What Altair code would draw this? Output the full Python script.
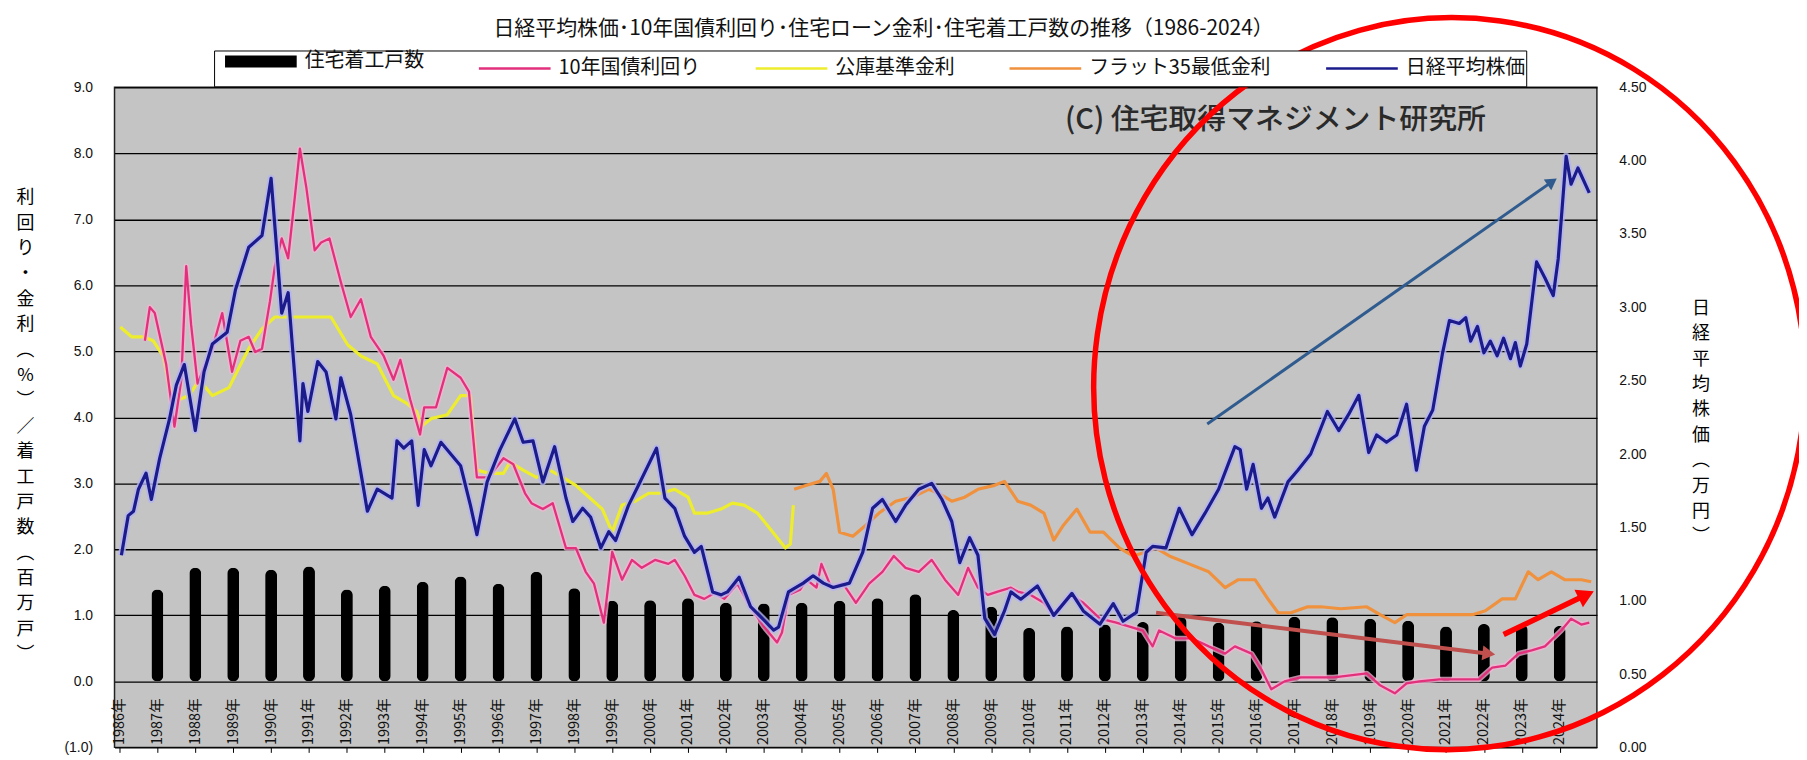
import altair as alt
import pandas as pd

FONT = "Noto Sans CJK JP"
NUM_FONT = "Liberation Sans"

TITLE = "日経平均株価･10年国債利回り･住宅ローン金利･住宅着工戸数の推移（1986-2024）"
WATERMARK = "(C) 住宅取得マネジメント研究所"
SERIES = ["住宅着工戸数", "10年国債利回り", "公庫基準金利", "フラット35最低金利", "日経平均株価"]
COLORS = ["#000000", "#e2307c", "#eded2e", "#f0913e", "#1b1b8c"]
LEFT_TITLE = ["利", "回", "り", "・", "金", "利", "︵", "%", "︶", "／", "着", "工", "戸", "数", "︵", "百", "万", "戸", "︶"]
RIGHT_TITLE = ["日", "経", "平", "均", "株", "価", "︵", "万", "円", "︶"]
YEAR_TICKS = list(range(1986, 2025))
LEFT_TICKS = list(range(-1, 10))
RIGHT_TICKS = [0.0, 0.5, 1.0, 1.5, 2.0, 2.5, 3.0, 3.5, 4.0, 4.5]

# 住宅着工戸数 (百万戸)
housing_years = list(range(1987, 2025))
housing_starts = [1.39, 1.72, 1.72, 1.69, 1.74, 1.39, 1.45, 1.51, 1.59, 1.48,
                  1.66, 1.41, 1.22, 1.23, 1.26, 1.19, 1.18, 1.19, 1.22, 1.26,
                  1.32, 1.08, 1.13, 0.81, 0.83, 0.86, 0.90, 0.98, 0.89, 0.91,
                  0.98, 0.97, 0.95, 0.92, 0.83, 0.87, 0.86, 0.84]

# 10年国債利回り (%)
bond_yield = [
    (1986.67, 5.16), (1986.8, 5.67), (1986.93, 5.58), (1987.23, 4.81), (1987.45, 3.86),
    (1987.63, 4.57), (1987.76, 6.29), (1987.89, 5.40), (1988.06, 4.51), (1988.23, 4.75),
    (1988.45, 5.04), (1988.71, 5.58), (1988.97, 4.69), (1989.19, 5.16), (1989.41, 5.22),
    (1989.58, 4.99), (1989.76, 5.04), (1989.97, 5.76), (1990.1, 6.29), (1990.28, 6.71),
    (1990.45, 6.41), (1990.63, 7.36), (1990.76, 8.07), (1990.93, 7.48), (1991.15, 6.53),
    (1991.32, 6.65), (1991.54, 6.71), (1991.84, 6.05), (1992.1, 5.52), (1992.37, 5.79),
    (1992.63, 5.22), (1992.97, 4.93), (1993.23, 4.57), (1993.41, 4.87), (1993.67, 4.27),
    (1993.93, 3.74), (1994.04, 4.15), (1994.35, 4.15), (1994.65, 4.75), (1995.0, 4.60),
    (1995.22, 4.39), (1995.43, 3.09), (1995.74, 3.09), (1996.13, 3.38), (1996.39, 3.29),
    (1996.7, 2.85), (1996.87, 2.70), (1997.17, 2.61), (1997.43, 2.70), (1997.78, 2.02),
    (1998.04, 2.02), (1998.3, 1.66), (1998.52, 1.48), (1998.78, 0.89), (1999.0, 1.96),
    (1999.26, 1.54), (1999.52, 1.84), (1999.78, 1.72), (2000.13, 1.84), (2000.48, 1.78),
    (2000.65, 1.84), (2000.91, 1.60), (2001.17, 1.31), (2001.43, 1.25), (2001.7, 1.34),
    (2001.96, 1.25), (2002.3, 1.48), (2002.65, 1.13), (2003.0, 0.83), (2003.35, 0.59),
    (2003.48, 0.74), (2003.65, 1.31), (2003.96, 1.39), (2004.13, 1.54), (2004.39, 1.42),
    (2004.52, 1.78), (2004.78, 1.42), (2005.09, 1.48), (2005.43, 1.19), (2005.78, 1.48),
    (2006.13, 1.66), (2006.43, 1.90), (2006.74, 1.72), (2007.09, 1.66), (2007.43, 1.84),
    (2007.78, 1.54), (2008.13, 1.31), (2008.39, 1.72), (2008.65, 1.42), (2008.91, 1.31),
    (2009.17, 1.36), (2009.52, 1.42), (2009.7, 1.36), (2010.04, 1.31), (2010.39, 1.19),
    (2010.65, 1.01), (2011.09, 1.31), (2011.43, 1.19), (2011.87, 0.95), (2012.3, 0.89),
    (2012.65, 0.83), (2013.0, 0.77), (2013.26, 0.53), (2013.43, 0.77), (2013.87, 0.65),
    (2014.3, 0.65), (2014.74, 0.53), (2015.17, 0.42), (2015.43, 0.53), (2015.87, 0.42),
    (2016.13, 0.18), (2016.39, -0.12), (2016.74, 0.00), (2017.17, 0.06), (2018.04, 0.06),
    (2018.91, 0.12), (2019.26, -0.06), (2019.65, -0.18), (2019.96, -0.03), (2020.3, 0.00),
    (2020.83, 0.03), (2021.35, 0.03), (2021.87, 0.03), (2022.22, 0.21), (2022.57, 0.24),
    (2022.91, 0.42), (2023.26, 0.47), (2023.61, 0.53), (2024.04, 0.77), (2024.3, 0.95),
    (2024.57, 0.86), (2024.78, 0.89),
]

# 公庫基準金利 (%)
koko_rate = [
    (1986.02, 5.37), (1986.32, 5.22), (1986.63, 5.22), (1986.89, 5.16), (1987.15, 4.93),
    (1987.32, 4.45), (1987.58, 4.27), (1987.84, 4.33), (1988.1, 4.57), (1988.45, 4.33),
    (1988.89, 4.45), (1989.15, 4.75), (1989.41, 5.04), (1989.76, 5.34), (1990.1, 5.52),
    (1990.54, 5.52), (1991.15, 5.52), (1991.58, 5.52), (1992.02, 5.10), (1992.37, 4.93),
    (1992.8, 4.81), (1993.23, 4.33), (1993.58, 4.21), (1993.84, 4.09), (1993.96, 3.86),
    (1994.22, 3.98), (1994.65, 4.04), (1995.0, 4.33), (1995.26, 4.33), (1995.43, 3.20),
    (1995.78, 3.15), (1996.13, 3.15), (1996.3, 3.32), (1996.65, 3.20), (1997.0, 3.09),
    (1997.35, 3.20), (1997.7, 3.09), (1998.04, 2.97), (1998.39, 2.79), (1998.74, 2.61),
    (1999.0, 2.26), (1999.26, 2.67), (1999.61, 2.73), (1999.96, 2.85), (2000.3, 2.85),
    (2000.65, 2.91), (2001.0, 2.79), (2001.17, 2.55), (2001.52, 2.55), (2001.87, 2.61),
    (2002.17, 2.70), (2002.48, 2.67), (2002.83, 2.55), (2003.17, 2.31), (2003.57, 2.02),
    (2003.7, 2.08), (2003.78, 2.67),
]

# フラット35最低金利 (%)
flat35_rate = [
    (2003.8, 2.91), (2004.13, 2.97), (2004.48, 3.03), (2004.65, 3.15), (2004.83, 2.91),
    (2005.0, 2.26), (2005.35, 2.20), (2005.7, 2.37), (2006.04, 2.55), (2006.48, 2.73),
    (2006.91, 2.79), (2007.35, 2.91), (2007.61, 2.85), (2007.96, 2.73), (2008.3, 2.79),
    (2008.65, 2.91), (2009.09, 2.97), (2009.35, 3.03), (2009.7, 2.73), (2010.04, 2.67),
    (2010.39, 2.55), (2010.65, 2.14), (2010.91, 2.37), (2011.26, 2.61), (2011.61, 2.26),
    (2011.96, 2.26), (2012.39, 2.02), (2012.74, 1.90), (2013.09, 1.96), (2013.35, 2.02),
    (2013.7, 1.90), (2014.22, 1.78), (2014.74, 1.66), (2015.17, 1.42), (2015.52, 1.54),
    (2015.96, 1.54), (2016.3, 1.25), (2016.57, 1.04), (2016.91, 1.04), (2017.35, 1.13),
    (2017.7, 1.13), (2018.22, 1.10), (2018.91, 1.13), (2019.26, 1.01), (2019.65, 0.89),
    (2019.96, 1.01), (2020.48, 1.01), (2021.09, 1.01), (2021.7, 1.01), (2022.04, 1.07),
    (2022.48, 1.25), (2022.83, 1.25), (2023.17, 1.66), (2023.43, 1.54), (2023.78, 1.66),
    (2024.13, 1.54), (2024.57, 1.54), (2024.83, 1.51),
]

# 日経平均株価 (万円)
nikkei = [
    (1986.05, 1.31), (1986.23, 1.58), (1986.37, 1.61), (1986.5, 1.76), (1986.7, 1.87),
    (1986.84, 1.69), (1987.06, 1.97), (1987.32, 2.24), (1987.5, 2.47), (1987.71, 2.61),
    (1988.0, 2.16), (1988.23, 2.56), (1988.45, 2.75), (1988.84, 2.83), (1989.06, 3.12),
    (1989.41, 3.41), (1989.76, 3.49), (1990.0, 3.88), (1990.28, 2.96), (1990.45, 3.10),
    (1990.76, 2.09), (1990.84, 2.48), (1990.97, 2.29), (1991.23, 2.63), (1991.45, 2.56),
    (1991.71, 2.24), (1991.84, 2.52), (1992.1, 2.27), (1992.41, 1.81), (1992.54, 1.61),
    (1992.8, 1.76), (1993.19, 1.70), (1993.32, 2.09), (1993.5, 2.04), (1993.71, 2.09),
    (1993.88, 1.65), (1994.04, 2.03), (1994.22, 1.92), (1994.48, 2.08), (1995.0, 1.92),
    (1995.26, 1.65), (1995.43, 1.45), (1995.7, 1.81), (1996.04, 2.03), (1996.43, 2.24),
    (1996.65, 2.08), (1996.91, 2.09), (1997.17, 1.81), (1997.48, 2.05), (1997.78, 1.70),
    (1997.96, 1.54), (1998.22, 1.63), (1998.43, 1.57), (1998.7, 1.36), (1998.91, 1.47),
    (1999.09, 1.41), (1999.43, 1.65), (1999.7, 1.79), (2000.17, 2.04), (2000.39, 1.70),
    (2000.65, 1.63), (2000.91, 1.44), (2001.17, 1.33), (2001.35, 1.37), (2001.65, 1.06),
    (2001.87, 1.04), (2002.04, 1.06), (2002.35, 1.16), (2002.65, 0.96), (2002.96, 0.88),
    (2003.26, 0.80), (2003.39, 0.82), (2003.65, 1.06), (2004.04, 1.12), (2004.3, 1.17),
    (2004.57, 1.12), (2004.83, 1.09), (2005.26, 1.12), (2005.61, 1.33), (2005.87, 1.63),
    (2006.13, 1.69), (2006.48, 1.54), (2006.74, 1.65), (2007.09, 1.76), (2007.43, 1.80),
    (2007.7, 1.69), (2007.96, 1.54), (2008.17, 1.26), (2008.43, 1.43), (2008.65, 1.31),
    (2008.83, 0.88), (2009.09, 0.77), (2009.35, 0.93), (2009.52, 1.06), (2009.78, 1.01),
    (2010.22, 1.10), (2010.65, 0.90), (2011.13, 1.05), (2011.43, 0.93), (2011.87, 0.84),
    (2012.22, 0.98), (2012.48, 0.86), (2012.83, 0.92), (2013.09, 1.33), (2013.26, 1.37),
    (2013.61, 1.36), (2013.96, 1.63), (2014.3, 1.45), (2014.65, 1.60), (2015.0, 1.76),
    (2015.43, 2.05), (2015.57, 2.03), (2015.74, 1.76), (2015.91, 1.93), (2016.13, 1.63),
    (2016.3, 1.70), (2016.48, 1.57), (2016.83, 1.81), (2017.09, 1.89), (2017.43, 2.00),
    (2017.87, 2.29), (2018.17, 2.16), (2018.43, 2.27), (2018.7, 2.40), (2018.96, 2.01),
    (2019.17, 2.13), (2019.43, 2.08), (2019.7, 2.13), (2019.96, 2.34), (2020.22, 1.89),
    (2020.43, 2.19), (2020.65, 2.30), (2020.91, 2.69), (2021.09, 2.91), (2021.35, 2.89),
    (2021.52, 2.93), (2021.65, 2.77), (2021.83, 2.87), (2022.0, 2.69), (2022.17, 2.77),
    (2022.35, 2.67), (2022.52, 2.79), (2022.7, 2.65), (2022.83, 2.76), (2022.96, 2.60),
    (2023.13, 2.75), (2023.39, 3.31), (2023.61, 3.20), (2023.83, 3.08), (2023.96, 3.33),
    (2024.17, 4.03), (2024.3, 3.84), (2024.48, 3.95), (2024.78, 3.78),
]

# hand-drawn annotations (in 日経平均 axis units): start, end, colour, width, head angle, head size
arrow_notes = [
    (2014.7, 2.205, 2023.8, 3.857, "#2f5b8e", 3, 325, 170),
    (2013.35, 0.918, 2022.13, 0.639, "#c0504d", 4, 7, 220),
    (2022.52, 0.770, 2024.7, 1.040, "#ff0000", 5.5, 334, 380),
]
ellipse_note = (2021.09, 2.48)
ELLIPSE_PATH = ("M1,0C1,0.5689,0.5523,1.03,0,1.03C-0.5523,1.03,-1,0.5689,-1,0"
                "C-1,-0.5689,-0.5523,-1.03,0,-1.03C0.5523,-1.03,1,-0.5689,1,0Z")
LEGEND_LINE = "M0,0L14.4,0"


def frame(pairs, name):
    return pd.DataFrame({"t": [p[0] for p in pairs], "v": [p[1] for p in pairs], "series": name})


housing_df = pd.DataFrame({"t": housing_years, "v": housing_starts})
bond_df = frame(bond_yield, SERIES[1])
koko_df = frame(koko_rate, SERIES[2])
flat_df = frame(flat35_rate, SERIES[3])
nikkei_df = frame(nikkei, SERIES[4])

W, H = 1489, 663

xsc = alt.Scale(domain=[1986.0, 2024.85], nice=False, zero=False)
ylsc = alt.Scale(domain=[-1, 9], nice=False, zero=False)
yrsc = alt.Scale(domain=[0, 4.5], nice=False, zero=False)
csc = alt.Scale(domain=SERIES, range=COLORS)

x_axis = alt.Axis(title=None, values=YEAR_TICKS, labelExpr="datum.value + '年'",
                  labelAngle=270, labelAlign="left", labelBaseline="middle",
                  labelPadding=-8, tickSize=5, tickColor="#000", domain=False, grid=False,
                  labelFont=FONT, labelFontSize=14.5, labelColor="#111",
                  labelOverlap=False, labelFlush=False, labelBound=False)

yl_axis = alt.Axis(orient="left", title=LEFT_TITLE, values=LEFT_TICKS,
                   labelExpr="datum.value < 0 ? '(' + format(-datum.value, '.1f') + ')' : format(datum.value, '.1f')",
                   ticks=False, domain=False, grid=True, gridColor="#000", gridWidth=1.3,
                   gridOpacity=1, labelPadding=22, labelFont=NUM_FONT, labelFontSize=14,
                   labelColor="#111", labelFlush=False, labelOverlap=False,
                   titleAngle=0, titleX=-90, titleY=102, titleAlign="center",
                   titleBaseline="top", titleLineHeight=25.5, titleFont=FONT,
                   titleFontSize=18, titleFontWeight="normal", titleColor="#000")

yr_axis = alt.Axis(orient="right", title=RIGHT_TITLE, values=RIGHT_TICKS, format=".2f",
                   ticks=False, domain=False, grid=False, labelPadding=22,
                   labelFont=NUM_FONT, labelFontSize=14, labelColor="#111",
                   labelFlush=False, labelOverlap=False,
                   titleAngle=0, titleX=104, titleY=213, titleAlign="center",
                   titleBaseline="top", titleLineHeight=25.5, titleFont=FONT,
                   titleFontSize=18, titleFontWeight="normal", titleColor="#000")

legend = alt.Legend(title=None, orient="none", legendX=100, legendY=-37,
                    direction="horizontal", symbolType=LEGEND_LINE, symbolSize=100,
                    symbolStrokeWidth=alt.ExprRef(expr="datum.value === '住宅着工戸数' ? 12 : 2.5"),
                    labelFont=FONT, labelFontSize=20, labelColor="#111", labelOffset=70,
                    labelLimit=400, columnPadding=45, padding=1,
                    strokeColor="#000", fillColor="#ffffff", symbolOpacity=1)

X = alt.X("t:Q", scale=xsc, axis=x_axis)
YL = alt.Y("v:Q", scale=ylsc, axis=yl_axis)
YR = alt.Y("v:Q", scale=yrsc, axis=yr_axis)
C = alt.Color("series:N", scale=csc, legend=legend)

bars = alt.Chart(housing_df).mark_bar(color="#000", width=12, cornerRadius=6).encode(x=X, y=YL)

koko = alt.Chart(koko_df).mark_line(strokeWidth=3.2, strokeJoin="round").encode(x=X, y=YL, color=C)
flat = alt.Chart(flat_df).mark_line(strokeWidth=3.2, strokeJoin="round").encode(x=X, y=YL, color=C)
bond_halo = alt.Chart(bond_df).mark_line(strokeWidth=5.5, color="#f3b6d3", opacity=0.75,
                                         strokeJoin="round").encode(x=X, y=YL)
bond = alt.Chart(bond_df).mark_line(strokeWidth=2.3, strokeJoin="round").encode(x=X, y=YL, color=C)

wm_df = pd.DataFrame({"t": [2016.5], "v": [8.5], "label": [WATERMARK]})
watermark = alt.Chart(wm_df).mark_text(font=FONT, fontSize=29, fontWeight=500, color="#2a2a2a",
                                       align="center", baseline="middle").encode(
    x=X, y=YL, text="label:N")

left_layer = alt.layer(bars, koko, flat, bond_halo, bond, watermark)

nk_halo = alt.Chart(nikkei_df).mark_line(strokeWidth=7, color="#b4b4f0", opacity=0.8,
                                         strokeJoin="round").encode(x=X, y=YR)
nk = alt.Chart(nikkei_df).mark_line(strokeWidth=3.2, strokeJoin="round").encode(x=X, y=YR, color=C)

right_parts = [nk_halo, nk]
for t0, n0, t1, n1, col, w, ang, hs in arrow_notes:
    adf = pd.DataFrame({"t": [t0], "v": [n0], "t1": [t1], "v1": [n1]})
    right_parts.append(alt.Chart(adf).mark_rule(color=col, strokeWidth=w).encode(
        x=X, y=YR, x2="t1:Q", y2="v1:Q"))
    hdf = pd.DataFrame({"t": [t1], "v": [n1]})
    right_parts.append(alt.Chart(hdf).mark_point(shape="triangle-right", filled=True, color=col,
                                                 size=hs, angle=ang, opacity=1).encode(x=X, y=YR))

edf = pd.DataFrame({"t": [ellipse_note[0]], "v": [ellipse_note[1]]})
right_parts.append(alt.Chart(edf).mark_point(shape=ELLIPSE_PATH, size=510000, filled=False,
                                             color="#ff0000", strokeWidth=5.5, angle=8,
                                             opacity=1).encode(x=X, y=YR))

right_layer = alt.layer(*right_parts)

chart = alt.layer(left_layer, right_layer).resolve_scale(y="independent").properties(
    width=W, height=H,
    padding={"left": 107, "top": 78, "right": 203, "bottom": 11},
    autosize=alt.AutoSizeParams(type="none"),
    title=alt.TitleParams(TITLE, font=FONT, fontSize=21, fontWeight="normal", color="#111",
                          anchor="middle", frame="group", offset=-32, dx=28),
).configure_view(fill="#c4c4c4", stroke="#222", strokeWidth=1.5)

chart.save("out.html", embed_options={"renderer": "svg", "actions": False})
